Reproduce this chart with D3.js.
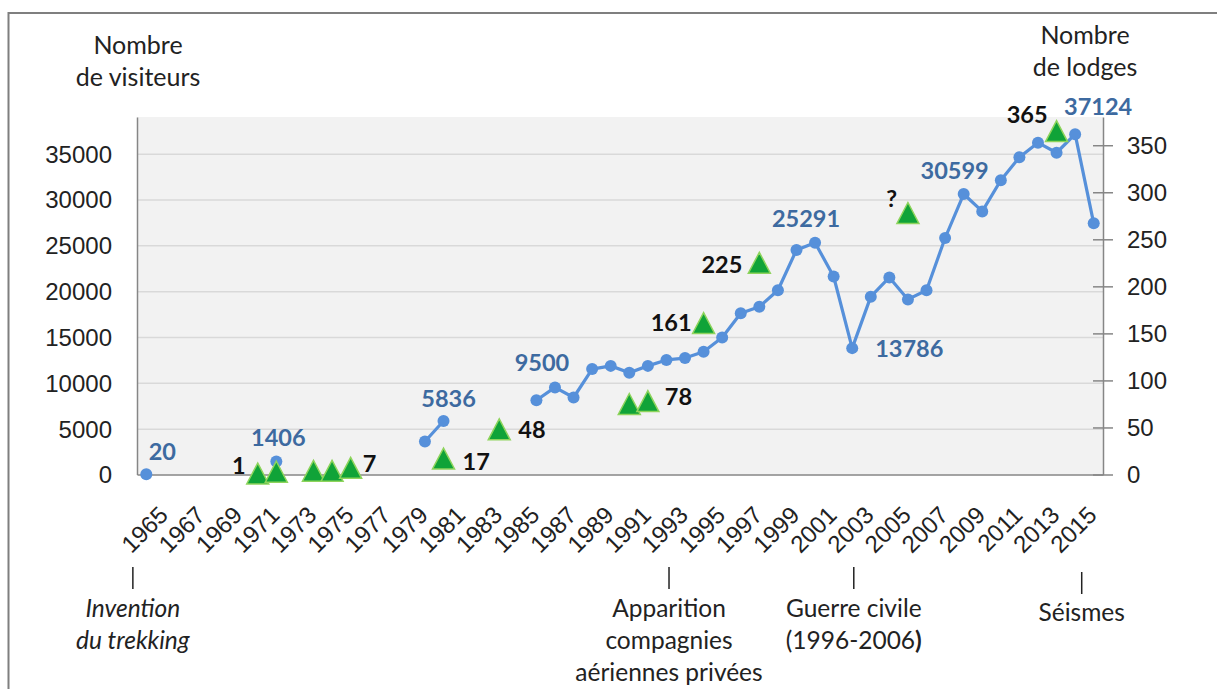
<!DOCTYPE html>
<html>
<head>
<meta charset="utf-8">
<script src="https://cdn.jsdelivr.net/npm/d3@7"></script>
<style>
    body { margin: 0; background: #fff; }
    svg { display: block; font-family: Lato, 'Open Sans', sans-serif; }
    .axis path, .axis line { stroke: #868686; }
    .axis text { fill: #222; font-size: 24px; }
    .grid line { stroke: #d9d9d9; stroke-width: 1.5px; }
    .grid path { display: none; }
    .vlabel { fill: #3d6aa0; font-size: 23.5px; font-weight: bold; }
    .llabel { fill: #111; font-size: 23.5px; font-weight: bold; }
    .title { fill: #222; font-size: 25px; }
    .event { fill: #222; font-size: 24.5px; }
</style>
</head>
<body>
<svg id="chart" width="1217" height="689"></svg>
<script>
// categories (one per year, only odd years are labelled)
const years = d3.range(1964, 2016);
const yearTicks = years.filter(y => y % 2 === 1);

// number of visitors (left axis)
const visitorYears = [1964, 1971, 1979, 1980,
    1985, 1986, 1987, 1988, 1989, 1990, 1991, 1992, 1993, 1994, 1995, 1996, 1997, 1998, 1999, 2000,
    2001, 2002, 2003, 2004, 2005, 2006, 2007, 2008, 2009, 2010, 2011, 2012, 2013, 2014, 2015];
const visitors = [20, 1406, 3600, 5836,
    8100, 9500, 8400, 11500, 11850, 11100, 11850, 12500, 12700, 13400, 14950, 17600, 18300, 20100, 24500, 25291,
    21600, 13786, 19400, 21500, 19100, 20100, 25800, 30599, 28700, 32100, 34600, 36200, 35100, 37124, 27400];
const labelledVisitorYears = [1964, 1971, 1980, 1986, 2000, 2002, 2008, 2014];

// number of lodges (right axis)
const lodgeYears = [1970, 1971, 1973, 1974, 1975, 1980, 1983, 1990, 1991, 1994, 1997, 2005, 2013];
const lodges = [1, 3, 4, 4, 7, 17, 48, 75, 78, 161, 225, 278, 365];
const lodgeLabels = ["1", "", "", "", "7", "17", "48", "", "78", "161", "225", "?", "365"];

const leftTicks = [0, 5000, 10000, 15000, 20000, 25000, 30000, 35000];
const rightTicks = [0, 50, 100, 150, 200, 250, 300, 350];

// events below the axis
const eventYears = [1965, 1993, 2003, 2015];
const eventTexts = [["Invention", "du trekking"],
    ["Apparition", "compagnies", "aériennes privées"],
    ["Guerre civile", "(1996-2006)"],
    ["Séismes"]];

// hand placed label offsets, like in the original sheet
const vOffset = {1964: [16, -14], 1971: [2, -16], 1980: [5, -14], 1986: [-13, -16],
    2000: [-9, -16], 2002: [57, 9], 2008: [-9, -15], 2014: [23, -19]};
const lOffset = {1970: ["end", -12, 0], 1975: ["start", 12, 4], 1980: ["start", 19, 11],
    1983: ["start", 19, 9], 1991: ["start", 17, 4], 1994: ["end", -12, 8], 1997: ["end", -17, 10],
    2005: ["end", -11, -6], 2013: ["end", -9, -8]};
const eventDx = {1965: -32, 1993: -16, 2003: -17, 2015: -12};

const plot = {left: 137, right: 1103, top: 117, bottom: 474.5};

const svg = d3.select("#chart");

// outer frame
svg.append("rect")
    .attr("x", 8.5).attr("y", 13)
    .attr("width", 1230).attr("height", 700)
    .attr("fill", "#fff")
    .attr("stroke", "#7f7f7f")
    .attr("stroke-width", 2);

let x = d3.scalePoint()
    .domain(years)
    .range([plot.left, plot.right])
    .padding(0.5);

let yLeft = d3.scaleLinear()
    .domain([0, 39000])
    .range([plot.bottom, plot.top]);

let yRight = d3.scaleLinear()
    .domain([0, 380])
    .range([plot.bottom, plot.top]);

svg.append("rect")
    .attr("x", plot.left).attr("y", plot.top)
    .attr("width", plot.right - plot.left)
    .attr("height", plot.bottom - plot.top)
    .attr("fill", "#f2f2f2");

// gridlines
svg.append("g")
    .attr("class", "grid")
    .attr("transform", "translate(" + plot.left + ",0)")
    .call(d3.axisLeft(yLeft).tickValues(leftTicks.slice(1)).tickSize(-(plot.right - plot.left)).tickFormat(""));

// left axis
let leftAxis = svg.append("g")
    .attr("class", "axis")
    .attr("transform", "translate(" + plot.left + ",0)")
    .call(d3.axisLeft(yLeft).tickValues(leftTicks).tickSize(0).tickSizeOuter(0).tickPadding(25).tickFormat(d3.format("d")));
leftAxis.select(".domain").attr("stroke-width", 1.5);
leftAxis.selectAll("text").attr("dy", "0.35em");

// right axis with crossing ticks
let rightAxis = svg.append("g")
    .attr("class", "axis")
    .attr("transform", "translate(" + plot.right + ",0)")
    .call(d3.axisRight(yRight).tickValues(rightTicks).tickSize(10).tickSizeOuter(0).tickPadding(14));
rightAxis.selectAll(".tick line").attr("x1", -10).attr("stroke-width", 1.5);
rightAxis.select(".domain").attr("stroke-width", 1.5);
rightAxis.selectAll("text").attr("dy", "0.35em");

// bottom axis
let bottomAxis = svg.append("g")
    .attr("class", "axis")
    .attr("transform", "translate(0," + plot.bottom + ")")
    .call(d3.axisBottom(x).tickValues(yearTicks).tickSize(0).tickSizeOuter(0));
bottomAxis.select(".domain").attr("stroke-width", 1.5);
bottomAxis.selectAll("text")
    .attr("y", 0).attr("dy", 0)
    .style("text-anchor", "end")
    .attr("transform", "translate(4,42) rotate(-45)");

// visitors line
let visitorMap = new Map(visitorYears.map((yr, i) => [yr, visitors[i]]));
let lineData = years.map(yr => ({year: yr, value: visitorMap.has(yr) ? visitorMap.get(yr) : null}));

let line = d3.line()
    .defined(d => d.value !== null)
    .x(d => x(d.year))
    .y(d => yLeft(d.value));

svg.append("path")
    .datum(lineData)
    .attr("d", line)
    .attr("fill", "none")
    .attr("stroke", "#5690da")
    .attr("stroke-width", 3.2)
    .attr("stroke-linejoin", "round");

svg.selectAll("circle.visit")
    .data(visitorYears)
    .enter()
    .append("circle")
    .attr("class", "visit")
    .attr("cx", d => x(d))
    .attr("cy", (d, i) => yLeft(visitors[i]))
    .attr("r", 6)
    .attr("fill", "#5690da");

// lodges triangles
let tri = {
    draw: function (context, size) {
        let w = Math.sqrt(size), h = w * 0.95;
        context.moveTo(0, -h / 2);
        context.lineTo(w / 2, h / 2);
        context.lineTo(-w / 2, h / 2);
        context.closePath();
    }
};

svg.selectAll("path.lodge")
    .data(lodgeYears)
    .enter()
    .append("path")
    .attr("class", "lodge")
    .attr("d", d3.symbol().type(tri).size(22 * 22))
    .attr("transform", (d, i) => "translate(" + x(d) + "," + yRight(lodges[i]) + ")")
    .attr("fill", "#10a338")
    .attr("stroke", "#8ed45c")
    .attr("stroke-width", 1.5);

// visitor labels
svg.selectAll("text.vlabel")
    .data(labelledVisitorYears)
    .enter()
    .append("text")
    .attr("class", "vlabel")
    .attr("text-anchor", "middle")
    .attr("x", d => x(d) + vOffset[d][0])
    .attr("y", d => yLeft(visitorMap.get(d)) + vOffset[d][1])
    .text(d => visitorMap.get(d));

// lodge labels
svg.selectAll("text.llabel")
    .data(lodgeYears.filter((d, i) => lodgeLabels[i] !== ""))
    .enter()
    .append("text")
    .attr("class", "llabel")
    .attr("text-anchor", d => lOffset[d][0])
    .attr("x", d => x(d) + lOffset[d][1])
    .attr("y", d => yRight(lodges[lodgeYears.indexOf(d)]) + lOffset[d][2])
    .text(d => lodgeLabels[lodgeYears.indexOf(d)]);

// axis titles
let titles = [
    {x: 138, y: [54, 86], lines: ["Nombre", "de visiteurs"]},
    {x: 1085, y: [44, 76], lines: ["Nombre", "de lodges"]}
];
titles.forEach(t => {
    t.lines.forEach((s, i) => {
        svg.append("text")
            .attr("class", "title")
            .attr("text-anchor", "middle")
            .attr("x", t.x).attr("y", t.y[i])
            .text(s);
    });
});

// events
eventYears.forEach((yr, i) => {
    let ex = x(yr) + eventDx[yr];
    let top = yr === 2015 ? 572 : 567;
    svg.append("line")
        .attr("x1", ex).attr("x2", ex)
        .attr("y1", top).attr("y2", top + 22)
        .attr("stroke", "#222")
        .attr("stroke-width", 1.5);
    eventTexts[i].forEach((s, j) => {
        let t = svg.append("text")
            .attr("class", "event")
            .attr("text-anchor", "middle")
            .attr("x", ex)
            .attr("y", (yr === 2015 ? 621 : 617) + j * 32)
            .style("font-style", yr === 1965 ? "italic" : null);
        if (s === "(1996-2006)") {
            t.append("tspan").text("(1996-2006");
            t.append("tspan").style("font-weight", "bold").text(")");
        } else {
            t.text(s);
        }
    });
});
</script>
</body>
</html>
